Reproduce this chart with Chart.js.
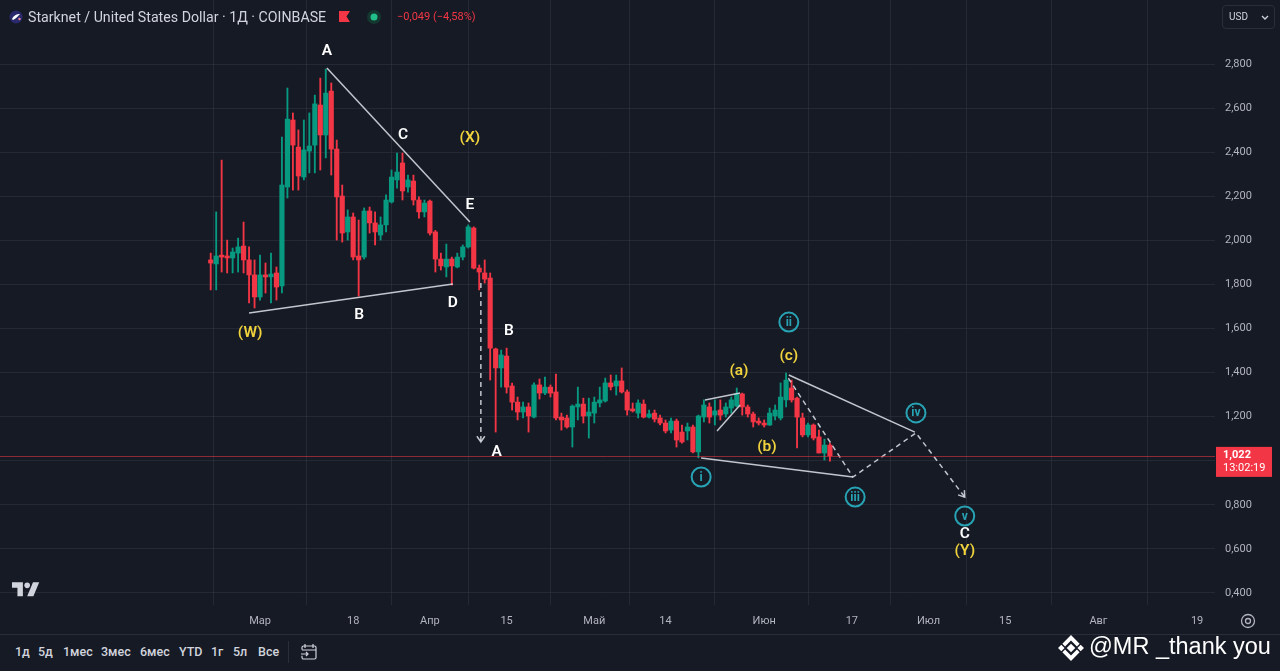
<!DOCTYPE html>
<html>
<head>
<meta charset="utf-8">
<script src="https://cdn.jsdelivr.net/npm/chart.js@4.4.1/dist/chart.umd.min.js"></script>
<style>
  html, body { margin: 0; padding: 0; background: #161a25; }
  #wrap { position: relative; width: 1280px; height: 671px; overflow: hidden; background: #161a25; font-family: Roboto, "Noto Sans", sans-serif; }
  #chart { position: absolute; left: 0; top: 0; }
  #hdr { position: absolute; left: 9px; top: 8px; height: 18px; color: #d1d4dc; font-size: 14.2px; white-space: nowrap; }
  #hdr .title { position: absolute; left: 19px; top: 0; line-height: 18px; }
  #hdr .chg { position: absolute; left: 388px; top: 0; line-height: 18px; font-size: 11px; color: #f23645; }
  #usd { position: absolute; left: 1222px; top: 5px; width: 51px; height: 22px; border: 1px solid #2a2e39; border-radius: 4px; color: #d1d4dc; font-size: 10px; }
  #usd span { position: absolute; left: 6px; top: 5px; }
  #bar { position: absolute; left: 0; top: 634px; width: 1280px; height: 37px; border-top: 1px solid #2a2e39; color: #d1d4dc; font-size: 12.5px; font-weight: 500; }
  #bar span { position: absolute; top: 9px; }
  #wm { position: absolute; left: 1089px; top: 633px; color: #ffffff; font-family: "Liberation Sans", Arial, sans-serif; font-size: 23.5px; white-space: nowrap; }
</style>
</head>
<body>
<div id="wrap">
  <canvas id="chart" width="1280" height="634"></canvas>

  <div id="hdr">
    <svg width="14" height="14" style="position:absolute;left:0;top:2px" viewBox="0 0 14 14">
      <circle cx="7" cy="7" r="6.5" fill="#29296b"/>
      <path d="M3 9 C5 5 8 4 11 4 C9 6 8 8 4 10 Z" fill="#ffffff"/>
      <circle cx="10.5" cy="9" r="1.2" fill="#f08a9c"/>
    </svg>
    <span class="title">Starknet / United States Dollar · 1Д · COINBASE</span>
    <svg width="11" height="11" style="position:absolute;left:330px;top:3px" viewBox="0 0 11 11">
      <path d="M0 0 H11 L7.5 5.5 L11 11 H0 Z" fill="#f23645"/>
    </svg>
    <svg width="14" height="14" style="position:absolute;left:358px;top:2px" viewBox="0 0 14 14">
      <circle cx="7" cy="7" r="7" fill="#14382f"/>
      <circle cx="7" cy="7" r="3.5" fill="#22c08a"/>
    </svg>
    <span class="chg">−0,049 (−4,58%)</span>
  </div>

  <div id="usd"><span>USD</span>
    <svg width="8" height="6" style="position:absolute;left:38px;top:9px" viewBox="0 0 8 6"><path d="M1 1 L4 4 L7 1" stroke="#d1d4dc" stroke-width="1.3" fill="none"/></svg>
  </div>

  <svg width="28" height="16" style="position:absolute;left:12px;top:582px" viewBox="0 0 36 20">
    <path d="M0 0 H14 V18 H7 V7 H0 Z" fill="#d1d4dc"/>
    <circle cx="19.5" cy="4" r="3.6" fill="#d1d4dc"/>
    <path d="M27 0 H35 L27.5 18 H19.5 Z" fill="#d1d4dc"/>
  </svg>

  <svg width="16" height="16" style="position:absolute;left:1240px;top:613px" viewBox="0 0 16 16">
    <circle cx="8" cy="8" r="6.5" stroke="#b2b5be" stroke-width="1.3" fill="none"/>
    <circle cx="8" cy="8" r="2.5" stroke="#b2b5be" stroke-width="1.3" fill="none"/>
  </svg>

  <div id="bar">
    <span style="left:15px">1д</span>
    <span style="left:38px">5д</span>
    <span style="left:63px">1мес</span>
    <span style="left:101px">3мес</span>
    <span style="left:140px">6мес</span>
    <span style="left:179px">YTD</span>
    <span style="left:211px">1г</span>
    <span style="left:233px">5л</span>
    <span style="left:258px">Все</span>
    <div style="position:absolute;left:288px;top:6px;width:1px;height:22px;background:#2a2e39"></div>
    <svg width="18" height="18" style="position:absolute;left:300px;top:8px" viewBox="0 0 18 18">
      <rect x="2" y="3" width="14" height="13" rx="1.5" stroke="#d1d4dc" stroke-width="1.2" fill="none" stroke-dasharray="40 6"/>
      <path d="M5 1 V5 M13 1 V5 M2 7 H16 M1 11 H8 M6 9 L8 11 L6 13" stroke="#d1d4dc" stroke-width="1.2" fill="none"/>
    </svg>
  </div>

  <svg width="28" height="28" style="position:absolute;left:1057px;top:634px" viewBox="0 0 26 26">
    <polygon points="13,9 17,13 13,17 9,13" fill="#ffffff"/>
    <polygon points="4,10 7,13 4,16 1,13" fill="#ffffff"/>
    <polygon points="22,10 25,13 22,16 19,13" fill="#ffffff"/>
    <polygon points="13,1 21,9 18.5,11.5 13,6 7.5,11.5 5,9" fill="#ffffff"/>
    <polygon points="13,25 21,17 18.5,14.5 13,20 7.5,14.5 5,17" fill="#ffffff"/>
  </svg>
  <div id="wm">@MR _thank you</div>
</div>

<script>
// daily candles, STRK/USD (Coinbase), 2024
const dates = [
  "02-21","02-22","02-23","02-24","02-25","02-26","02-27","02-28","02-29",
  "03-01","03-02","03-03","03-04","03-05","03-06","03-07","03-08","03-09","03-10",
  "03-11","03-12","03-13","03-14","03-15","03-16","03-17","03-18","03-19","03-20",
  "03-21","03-22","03-23","03-24","03-25","03-26","03-27","03-28","03-29","03-30",
  "03-31","04-01","04-02","04-03","04-04","04-05","04-06","04-07","04-08","04-09",
  "04-10","04-11","04-12","04-13","04-14","04-15","04-16","04-17","04-18","04-19",
  "04-20","04-21","04-22","04-23","04-24","04-25","04-26","04-27","04-28","04-29",
  "04-30","05-01","05-02","05-03","05-04","05-05","05-06","05-07","05-08","05-09",
  "05-10","05-11","05-12","05-13","05-14","05-15","05-16","05-17","05-18","05-19",
  "05-20","05-21","05-22","05-23","05-24","05-25","05-26","05-27","05-28","05-29",
  "05-30","05-31","06-01","06-02","06-03","06-04","06-05","06-06","06-07","06-08",
  "06-09","06-10","06-11","06-12","06-13"
];

const open = [
  1.911,1.893,1.933,1.929,1.920,1.942,1.974,1.911,1.843,
  1.743,1.843,1.834,1.852,1.793,2.242,2.546,2.423,2.287,2.405,
  2.432,2.614,2.478,2.677,2.414,2.201,2.038,2.106,1.929,1.924,
  2.133,2.079,2.024,2.070,2.174,2.274,2.351,2.242,2.269,2.183,
  2.129,2.178,2.038,1.915,1.879,1.915,1.879,1.924,1.970,2.056,
  1.874,1.852,1.829,1.507,1.421,1.475,1.339,1.266,1.221,1.244,
  1.198,1.344,1.307,1.334,1.312,1.198,1.194,1.153,1.244,1.257,
  1.203,1.216,1.262,1.271,1.353,1.339,1.362,1.312,1.235,1.216,
  1.257,1.198,1.216,1.194,1.171,1.139,1.180,1.130,1.135,1.153,
  1.040,1.198,1.244,1.207,1.230,1.212,1.239,1.248,1.303,1.244,
  1.212,1.180,1.171,1.162,1.203,1.194,1.276,1.330,1.284,1.194,
  1.117,1.162,1.108,1.035,1.071
];
const high = [
  1.942,2.129,2.364,2.001,1.965,2.010,2.083,1.970,1.911,
  1.933,1.897,1.942,1.879,2.469,2.691,2.578,2.501,2.546,2.578,
  2.659,2.736,2.777,2.714,2.455,2.251,2.138,2.124,2.092,2.147,
  2.151,2.129,2.106,2.206,2.319,2.396,2.396,2.296,2.296,2.197,
  2.183,2.183,2.045,1.942,1.983,1.924,1.942,1.979,2.070,2.061,
  1.888,1.911,1.852,1.511,1.502,1.511,1.352,1.289,1.266,1.262,
  1.353,1.371,1.380,1.344,1.393,1.216,1.207,1.253,1.334,1.284,
  1.284,1.289,1.334,1.375,1.389,1.389,1.421,1.321,1.262,1.276,
  1.276,1.230,1.230,1.207,1.185,1.194,1.189,1.162,1.171,1.162,
  1.207,1.276,1.262,1.276,1.276,1.262,1.289,1.330,1.307,1.253,
  1.221,1.194,1.185,1.239,1.253,1.353,1.398,1.366,1.289,1.216,
  1.171,1.167,1.139,1.098,1.080
];
const low = [
  1.775,1.775,1.856,1.852,1.852,1.856,1.852,1.716,1.693,
  1.729,1.761,1.716,1.729,1.761,2.192,2.228,2.228,2.274,2.306,
  2.306,2.319,2.374,2.296,2.001,1.992,2.001,1.911,1.747,1.915,
  2.033,1.979,2.001,2.038,2.169,2.237,2.183,2.219,2.160,2.101,
  2.106,2.024,1.856,1.865,1.834,1.797,1.875,1.911,1.965,1.870,
  1.775,1.806,1.366,1.130,1.334,1.307,1.230,1.185,1.194,1.130,
  1.194,1.280,1.300,1.289,1.185,1.139,1.148,1.062,1.185,1.171,
  1.103,1.171,1.244,1.266,1.321,1.298,1.307,1.207,1.221,1.194,
  1.194,1.194,1.176,1.162,1.126,1.126,1.062,1.080,1.094,1.035,
  1.013,1.176,1.171,1.162,1.185,1.198,1.216,1.244,1.207,1.198,
  1.153,1.162,1.153,1.160,1.185,1.185,1.244,1.266,1.058,1.108,
  1.108,1.094,1.035,1.003,0.998
];
const close = [
  1.897,1.929,1.924,1.920,1.947,1.970,1.911,1.843,1.743,
  1.843,1.834,1.847,1.788,2.251,2.550,2.432,2.292,2.410,2.428,
  2.619,2.478,2.668,2.414,2.197,2.033,2.106,1.924,1.911,2.133,
  2.079,2.038,2.070,2.183,2.287,2.310,2.224,2.274,2.183,2.129,
  2.169,2.033,1.915,1.884,1.915,1.884,1.924,1.970,2.061,1.874,
  1.856,1.824,1.511,1.421,1.480,1.334,1.266,1.221,1.244,1.203,
  1.344,1.307,1.334,1.307,1.194,1.185,1.153,1.248,1.257,1.203,
  1.221,1.266,1.276,1.353,1.335,1.362,1.312,1.230,1.226,1.262,
  1.198,1.212,1.189,1.171,1.135,1.180,1.094,1.085,1.153,1.040,
  1.203,1.253,1.198,1.226,1.207,1.244,1.276,1.303,1.244,1.212,
  1.176,1.171,1.162,1.216,1.230,1.289,1.366,1.276,1.198,1.117,
  1.162,1.103,1.035,1.071,1.022
];

const tickDates = ["03-01","03-18","04-01","04-15","05-01","05-14","06-01","06-17","07-01","07-15","08-01","08-19"];
const tickLabels = ["Мар","18","Апр","15","Май","14","Июн","17","Июл","15","Авг","19"];
const priceTicks = [0.4,0.6,0.8,1.0,1.2,1.4,1.6,1.8,2.0,2.2,2.4,2.6,2.8];

// wave markup, x in days from 1 March
const triangleUpper = [{x:12.2,y:2.782},{x:38.3,y:2.083}];
const triangleLower = [{x:-2.0,y:1.670},{x:35.2,y:1.802}];
const dropArrow = [{x:40.3,y:1.806},{x:40.3,y:1.085}];
const wedgeTop = [{x:81.2,y:1.276},{x:87.6,y:1.307}];
const wedgeBottom = [{x:83.4,y:1.135},{x:87.6,y:1.253}];
const baseLine = [{x:80.5,y:1.012},{x:108.2,y:0.926}];
const topLine = [{x:96.5,y:1.389},{x:119.5,y:1.130}];
const projection = [{x:96.4,y:1.375},{x:108.2,y:0.926},{x:119.7,y:1.126},{x:128.6,y:0.835}];

const waveMarks = [
  {text:"A", x:12.2, y:2.859, kind:"white"},
  {text:"(W)", x:-1.8, y:1.580, kind:"yellow"},
  {text:"B", x:18.1, y:1.661, kind:"white"},
  {text:"C", x:26.1, y:2.478, kind:"white"},
  {text:"(X)", x:38.3, y:2.464, kind:"yellow"},
  {text:"E", x:38.3, y:2.160, kind:"white"},
  {text:"D", x:35.2, y:1.716, kind:"white"},
  {text:"B", x:45.4, y:1.589, kind:"white"},
  {text:"A", x:43.2, y:1.040, kind:"white"},
  {text:"(a)", x:87.4, y:1.407, kind:"yellow"},
  {text:"(b)", x:92.5, y:1.062, kind:"yellow"},
  {text:"(c)", x:96.5, y:1.475, kind:"yellow"},
  {text:"i", x:80.5, y:0.926, kind:"circle"},
  {text:"ii", x:96.5, y:1.629, kind:"circle"},
  {text:"iii", x:108.6, y:0.835, kind:"circle"},
  {text:"iv", x:119.7, y:1.217, kind:"circle"},
  {text:"v", x:128.6, y:0.749, kind:"circle"},
  {text:"C", x:128.6, y:0.668, kind:"white"},
  {text:"(Y)", x:128.6, y:0.590, kind:"yellow"}
];

const UP = "#089981";
const DOWN = "#f23645";
const LINE = "rgba(225,228,235,0.85)";
const FONT = "Roboto, 'Noto Sans', sans-serif";

function dayOf(s) {
  const [m, d] = s.split("-").map(Number);
  return (Date.UTC(2024, m - 1, d) - Date.UTC(2024, 2, 1)) / 864e5;
}

const days = dates.map(dayOf);
const tickDays = tickDates.map(dayOf);
const candleColors = close.map((c, i) => (c >= open[i] ? UP : DOWN));

function markup(data, dashed, arrow) {
  return {
    type: "line",
    data: data,
    borderColor: LINE,
    borderWidth: 1.5,
    borderDash: dashed ? [5, 4] : [],
    pointRadius: 0,
    tension: 0,
    order: 0,
    arrow: arrow
  };
}

const overlay = {
  id: "overlay",
  afterDatasetsDraw(chart) {
    const { ctx, chartArea: a, scales: { x, y } } = chart;
    ctx.save();
    ctx.beginPath();
    ctx.rect(a.left, a.top, a.right - a.left, a.bottom - a.top);
    ctx.clip();

    // last price line
    const py = Math.round(y.getPixelForValue(close[close.length - 1])) + 0.5;
    ctx.strokeStyle = "rgba(242,54,69,0.55)";
    ctx.lineWidth = 1;
    ctx.beginPath();
    ctx.moveTo(a.left, py);
    ctx.lineTo(a.right, py);
    ctx.stroke();

    // arrow heads
    chart.data.datasets.forEach((ds, i) => {
      if (!ds.arrow) return;
      const pts = chart.getDatasetMeta(i).data;
      const p1 = pts[pts.length - 2], p2 = pts[pts.length - 1];
      const ang = Math.atan2(p2.y - p1.y, p2.x - p1.x);
      ctx.strokeStyle = LINE;
      ctx.lineWidth = 1.5;
      ctx.setLineDash([]);
      ctx.beginPath();
      ctx.moveTo(p2.x - 7 * Math.cos(ang - 0.6), p2.y - 7 * Math.sin(ang - 0.6));
      ctx.lineTo(p2.x, p2.y);
      ctx.lineTo(p2.x - 7 * Math.cos(ang + 0.6), p2.y - 7 * Math.sin(ang + 0.6));
      ctx.stroke();
    });

    // wave labels
    ctx.textAlign = "center";
    ctx.textBaseline = "middle";
    waveMarks.forEach(m => {
      const px = x.getPixelForValue(m.x), yy = y.getPixelForValue(m.y);
      if (m.kind === "circle") {
        ctx.strokeStyle = "#27a3b4";
        ctx.lineWidth = 2;
        ctx.beginPath();
        ctx.arc(px, yy, 9.5, 0, Math.PI * 2);
        ctx.stroke();
        ctx.fillStyle = "#27a3b4";
        ctx.font = "bold 12px " + FONT;
        ctx.fillText(m.text, px, yy + 0.5);
      } else {
        ctx.fillStyle = m.kind === "yellow" ? "#f0d23c" : "#ffffff";
        ctx.font = "600 15.5px " + FONT;
        ctx.fillText(m.text, px, yy);
      }
    });
    ctx.restore();
  },
  afterDraw(chart) {
    const { ctx, scales: { y } } = chart;
    const last = close[close.length - 1];
    const py = y.getPixelForValue(last);
    ctx.save();
    ctx.fillStyle = DOWN;
    ctx.fillRect(1216, py - 9, 56, 30);
    ctx.fillStyle = "#ffffff";
    ctx.textAlign = "left";
    ctx.textBaseline = "middle";
    ctx.font = "bold 11px " + FONT;
    ctx.fillText(last.toFixed(3).replace(".", ","), 1223, py - 1);
    ctx.font = "11px " + FONT;
    ctx.fillText("13:02:19", 1223, py + 12);
    ctx.restore();
  }
};

new Chart(document.getElementById("chart").getContext("2d"), {
  type: "bar",
  data: {
    datasets: [
      markup(triangleUpper, false, false),
      markup(triangleLower, false, false),
      markup(dropArrow, true, true),
      markup(wedgeTop, false, false),
      markup(wedgeBottom, false, false),
      markup(baseLine, false, false),
      markup(topLine, false, false),
      markup(projection, true, true),
      {
        type: "bar",
        data: days.map((d, i) => ({ x: d, y: [low[i], high[i]] })),
        backgroundColor: candleColors,
        barThickness: 1.2,
        grouped: false,
        order: 2
      },
      {
        type: "bar",
        data: days.map((d, i) => ({ x: d, y: [open[i], close[i]] })),
        backgroundColor: candleColors,
        barThickness: 4.5,
        minBarLength: 1,
        grouped: false,
        order: 1
      }
    ]
  },
  options: {
    responsive: false,
    animation: false,
    events: [],
    layout: { padding: 0 },
    plugins: { legend: { display: false }, tooltip: { enabled: false } },
    scales: {
      x: {
        type: "linear",
        offset: false,
        min: -47.45,
        max: 174.27,
        afterBuildTicks: s => { s.ticks = tickDays.map(v => ({ value: v })); },
        afterFit: s => { s.height = 29; },
        ticks: {
          autoSkip: false,
          maxRotation: 0,
          padding: 10,
          color: "#b2b5be",
          font: { family: FONT, size: 11 },
          callback: (v, i) => tickLabels[i]
        },
        grid: { color: "rgba(50,55,68,0.55)", drawTicks: false },
        border: { display: false }
      },
      y: {
        type: "linear",
        position: "right",
        min: 0.3454,
        max: 3.0904,
        afterBuildTicks: s => { s.ticks = priceTicks.map(v => ({ value: v })); },
        afterFit: s => { s.width = 65; s.paddingTop = 0; s.paddingBottom = 0; },
        ticks: {
          padding: 10,
          color: "#b2b5be",
          font: { family: FONT, size: 11 },
          callback: v => v.toFixed(3).replace(".", ",")
        },
        grid: { color: "rgba(50,55,68,0.55)", drawTicks: false },
        border: { display: false }
      }
    }
  },
  plugins: [overlay]
});
</script>
</body>
</html>
